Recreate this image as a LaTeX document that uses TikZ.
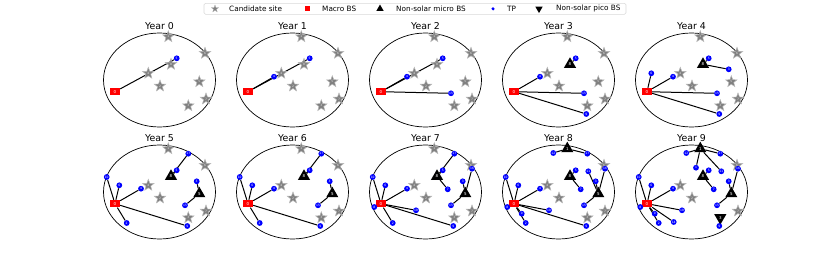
\documentclass[tikz,border=0pt]{standalone}
\usepackage{fontspec}
\setmainfont{DejaVu Sans}
\usetikzlibrary{shapes.geometric,backgrounds}

% candidate sites (0 = macro BS) and TPs, relative to the panel centre
\newcommand{\sitexy}{1/8.8/-43.3, 6/45.5/-26.7, 8/11.5/-15.7, 4/-11.2/-6.7, 2/0.5/6, 5/39.8/1.7, 7/46.5/19, 3/28.8/25.7, 0/-44.5/11.7}
\newcommand{\tpxy}{12/-5.2/-39, 17/28.8/-38.3, 1/4.5/-24.3, 11/29.8/-20.7, 5/17.2/-21.7, 3/37.2/-10.7, 16/46.5/-23.3, 7/22.2/-2.7, 10/-52.8/-15, 6/-40.2/-6.7, 4/-18.5/-3.3, 8/-51.2/15, 0/-36.8/21.7, 2/-32.8/31, 14/-17.8/30, 18/-9.5/18.3, 15/25.5/13.3, 9/27.8/34}

\begin{document}
\begin{tikzpicture}[x=1pt,y=-1pt,every node/.style={inner sep=0pt},
  site/.style={star,star points=5,star point ratio=2.4,minimum size=12pt,fill=gray,draw=gray!55,line width=.5pt,text=white!80!gray,font=\fontsize{3}{3}\selectfont},
  macro/.style={rectangle,fill=red,minimum width=10pt,minimum height=7.5pt,text=white,font=\fontsize{4}{4}\selectfont},
  micro/.style={regular polygon,regular polygon sides=3,fill=black,minimum size=14pt,text=white,font=\fontsize{4}{4}\selectfont},
  pico/.style={micro,shape border rotate=180},
  tp/.style={circle,fill=blue,minimum size=5.8pt,text=white,font=\fontsize{3}{3}\selectfont},
  link/.style={line width=1pt},
  region/.style={line width=.7pt},
  title/.style={font=\fontsize{9.4}{11}\selectfont},
  key/.style={anchor=west,font=\fontsize{7.3}{9}\selectfont}]
  \useasboundingbox (0,0) rectangle (830,273);

  % legend
  \draw[rounded corners=1.5pt,draw=gray!30,fill=white,line width=.6pt] (204,3.3) rectangle (626,14.3);
  \node[site,minimum size=7.5pt,line width=.3pt] (k1) at (215,8.8) {};
  \node[key] (l1) at (229,8.8) {Candidate site};
  \node[macro,minimum width=5pt,minimum height=4.8pt] (k2) at (307,8.8) {};
  \node[key] (l2) at (322,8.8) {Macro BS};
  \node[micro,minimum size=8.5pt] (k3) at (380,8.8) {};
  \node[key] (l3) at (396,8.8) {Non-solar micro BS};
  \node[tp,minimum size=3.4pt] (k4) at (493,8.8) {};
  \node[key] (l4) at (507,8.8) {TP};
  \node[pico,minimum size=8.5pt] (k5) at (539,8.8) {};
  \node[key] (l5) at (556,8.8) {Non-solar pico BS};

  % one panel per year
  \foreach \yr/\cx/\cy/\sites/\tps/\links in {
    0/159.5/80/{1/site,6/site,8/site,4/site,2/site,5/site,7/site,3/site}/{5}/{0/5},
    1/292.5/80/{1/site,6/site,8/site,4/site,2/site,5/site,7/site,3/site}/{4,5}/{0/4,0/5},
    2/425.5/80/{1/site,6/site,8/site,4/site,2/site,5/site,7/site,3/site}/{4,5,15}/{0/4,0/5,0/15},
    3/558.5/80/{1/site,6/site,8/micro,4/site,2/site,5/site,7/site,3/site}/{4,5,15,9}/{0/4,0/15,0/9,8/5},
    4/691.5/80/{1/site,6/site,8/micro,4/site,2/site,5/site,7/site,3/site}/{6,4,5,3,15,9}/{0/6,0/4,0/15,0/9,8/5,8/3},
    5/159.5/192/{1/site,6/site,8/micro,4/site,2/site,5/micro,7/site,3/site}/{10,6,4,17,5,3,15,2,9}/{0/10,0/6,0/4,0/2,0/9,8/5,8/17,5/3,5/15},
    6/292.5/192/{1/site,6/site,8/micro,4/site,2/site,5/micro,7/site,3/site}/{10,6,4,17,5,3,15,2,9}/{0/10,0/6,0/4,0/2,0/9,8/5,8/17,5/3,5/15},
    7/425.5/192/{1/site,6/site,8/micro,4/site,2/site,5/micro,7/site,3/site}/{10,6,4,8,2,18,17,5,7,3,16,15,9}/{0/10,0/6,0/4,0/8,0/2,0/18,0/9,8/5,8/17,8/7,5/16,5/15,5/3},
    8/558.5/192/{1/micro,6/site,8/micro,4/site,2/site,5/micro,7/site,3/site}/{12,17,5,11,3,16,7,10,6,4,8,0,2,18,15,9}/{0/10,0/6,0/4,0/8,0/0,0/2,0/18,0/9,1/12,1/17,8/5,8/7,5/16,5/15,5/3,5/11},
    9/691.5/192/{1/micro,6/site,8/micro,4/site,2/site,5/micro,7/site,3/pico}/{12,17,1,11,5,3,16,7,10,6,4,8,0,2,14,18,15,9}/{0/10,0/6,0/4,0/8,0/0,0/2,0/14,0/18,1/12,1/17,1/1,1/11,8/5,8/7,5/16,5/3,5/15,3/9}} {
    \begin{scope}[shift={(\cx,\cy)},name prefix=y\yr-]
      \draw[region] (0,0) ellipse (56 and 47);
      \node[title] (head) at (0,-54) {Year \yr};
      \foreach \i/\x/\y in \sitexy {\coordinate (c\i) at (\x,\y);}
      \foreach \i/\x/\y in \tpxy {\coordinate (p\i) at (\x,\y);}
      \foreach \i/\kind in \sites {\node[\kind] (s\i) at (c\i) {\i};}
      \node[macro] (s0) at (c0) {0};
      \foreach \i in \tps {\node[tp] (t\i) at (p\i) {\i};}
      \begin{scope}[on background layer]
        \foreach \a/\b in \links {\draw[link] (s\a) -- (t\b);}
      \end{scope}
    \end{scope}
  }
\end{tikzpicture}
\end{document}
